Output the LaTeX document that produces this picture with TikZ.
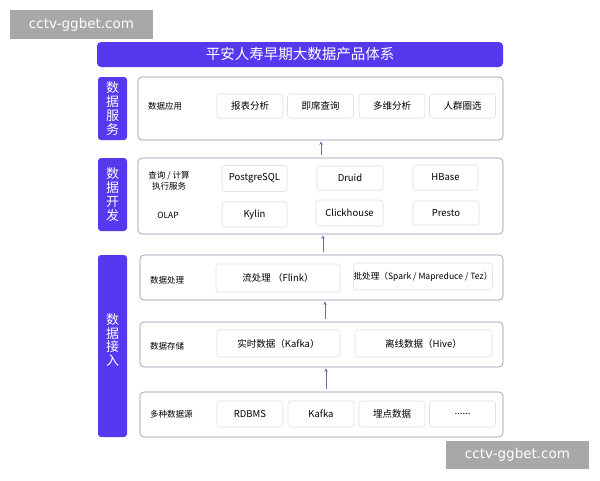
\documentclass[tikz,border=0pt]{standalone}
\usepackage{fontspec}
\setmainfont{Noto Sans CJK SC}
\newfontfamily\wmfont{DejaVu Sans}
\definecolor{brand}{RGB}{88,56,238}
\definecolor{framecol}{RGB}{146,142,176}
\definecolor{itemcol}{RGB}{222,222,228}
\definecolor{arrowcol}{RGB}{112,106,160}
\definecolor{wmgray}{RGB}{168,168,168}
\begin{document}
\begin{tikzpicture}[>=stealth,x=1pt,y=-1pt,
    titlebar/.style={fill=brand,rounded corners=4pt,text=white,inner sep=0pt,font=\fontsize{14.5}{16}\selectfont},
    side/.style={fill=brand,rounded corners=3pt,text=white,inner sep=0pt,align=center,minimum width=29pt,font=\fontsize{13}{13.8}\selectfont},
    layer/.style={draw=framecol,line width=.6pt,rounded corners=4pt,fill=white,inner sep=0pt,minimum width=365pt},
    item/.style={draw=itemcol,line width=.6pt,rounded corners=3pt,fill=white,inner sep=0pt,minimum width=66pt,minimum height=26pt,font=\fontsize{9.5}{11}\selectfont},
    tag/.style={inner sep=0pt,align=center,font=\fontsize{8.5}{10.5}\selectfont},
    flow/.style={->,draw=arrowcol,line width=.6pt,shorten >=1pt,shorten <=3pt},
    wmark/.style={fill=wmgray,text=white,inner sep=0pt,minimum width=143pt,minimum height=29pt,font=\wmfont\fontsize{13.5}{15}\selectfont}]
  \useasboundingbox (0,0) rectangle (600,480);
  \node[titlebar,minimum width=406pt,minimum height=25pt] (title) at (300,54.5) {平安人寿早期大数据产品体系};
  \node[side,minimum height=63pt] (sideSrv) at (112.5,108.5) {数\\据\\服\\务};
  \node[side,minimum height=73pt] (sideDev) at (112.5,194.5) {数\\据\\开\\发};
  \node[side,minimum height=182pt] (sideIn) at (112.5,346) {};
  \node[side,fill=none] (sideInText) at (112.5,340) {数\\据\\接\\入};
  \node[layer,minimum height=63pt] (srv) at (320.5,108.5) {};
  \node[layer,minimum height=76pt] (dev) at (320.5,196) {};
  \node[layer,minimum width=363pt,minimum height=45pt] (proc) at (321.5,277.5) {};
  \node[layer,minimum width=363pt,minimum height=45pt] (store) at (321.5,344.5) {};
  \node[layer,minimum width=363pt,minimum height=45pt] (source) at (321.5,414.5) {};
  \node[tag,anchor=west] (tagSrv) at (148,106) {数据应用};
  \node[item,minimum height=24pt] (report) at (250,106) {报表分析};
  \node[item,minimum height=24pt] (adhoc) at (320.5,106) {即席查询};
  \node[item,minimum height=24pt] (multi) at (392,106) {多维分析};
  \node[item,minimum height=24pt] (crowd) at (462.5,106) {人群圈选};
  \node[tag] (tagQuery) at (169,181) {查询 / 计算\\执行服务};
  \node[tag] (tagOlap) at (168,215) {OLAP};
  \node[item,minimum width=65pt] (pg) at (254.5,178.5) {PostgreSQL};
  \node[item,minimum height=24pt] (druid) at (350,178) {Druid};
  \node[item,minimum width=65pt,minimum height=25pt] (hbase) at (445.5,177.5) {HBase};
  \node[item,minimum width=65pt,minimum height=25pt] (kylin) at (254.5,214.5) {Kylin};
  \node[item,minimum width=67pt] (click) at (349.5,213) {Clickhouse};
  \node[item,minimum height=24pt] (presto) at (446,213) {Presto};
  \node[tag,anchor=west] (tagProc) at (150,280) {数据处理};
  \node[item,minimum width=124pt,minimum height=28pt] (flink) at (278,278) {流处理 （Flink）};
  \node[item,minimum width=138pt,minimum height=27pt,font=\fontsize{8.6}{10}\selectfont] (batch) at (423,276.5) {批处理（Spark / Mapreduce / Tez）};
  \node[tag,anchor=west] (tagStore) at (150,346) {数据存储};
  \node[item,minimum width=123pt,minimum height=27pt] (kafkaRt) at (278.5,343.5) {实时数据（Kafka）};
  \node[item,minimum width=137pt,minimum height=27pt] (hive) at (423.5,343.5) {离线数据（Hive）};
  \node[tag,anchor=west] (tagSource) at (150,414) {多种数据源};
  \node[item] (rdbms) at (250,414) {RDBMS};
  \node[item] (kafka) at (321,414) {Kafka};
  \node[item] (track) at (392,414) {埋点数据};
  \node[item] (more) at (462.5,414) {......};
  \draw[flow] ([xshift=.5pt]dev.north) -- ([xshift=.5pt]srv.south);
  \draw[flow] ([xshift=1.5pt]proc.north) -- ([xshift=2.5pt]dev.south);
  \draw[flow] ([xshift=3.5pt]store.north) -- ([xshift=3.5pt]proc.south);
  \draw[flow] ([xshift=4.5pt]source.north) -- ([xshift=4.5pt]store.south);
  \node[wmark] (wmTop) at (81.5,24.5) {cctv-ggbet.com};
  \node[wmark,minimum height=28pt] (wmBottom) at (517.5,455) {cctv-ggbet.com};
\end{tikzpicture}
\end{document}
